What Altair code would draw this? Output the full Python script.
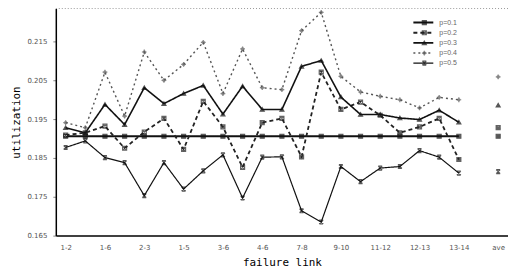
import altair as alt
import pandas as pd

links = ["1-2", "1-3", "1-6", "2-4", "2-3", "2-5", "1-5", "3-4", "3-6", "4-5",
         "4-6", "5-7", "7-8", "8-9", "9-10", "10-11", "11-12", "11-13", "12-13",
         "12-14", "13-14", " ", "ave"]

series_names = ["p=0.1", "p=0.2", "p=0.3", "p=0.4", "p=0.5"]

s1 = [0.1906] * 21 + [None, 0.1906]
s2 = [0.1909, 0.1915, 0.1932, 0.1875, 0.1917, 0.1952, 0.1872, 0.1996, 0.1930, 0.1826,
      0.1941, 0.1952, 0.1853, 0.2071, 0.1975, 0.1994, 0.1960, 0.1915, 0.1930, 0.1952,
      0.1846, None, 0.1928]
s3 = [0.1928, 0.1915, 0.1988, 0.1936, 0.2031, 0.1990, 0.2016, 0.2037, 0.1963, 0.2035,
      0.1975, 0.1975, 0.2086, 0.2101, 0.2007, 0.1962, 0.1962, 0.1953, 0.1949, 0.1973,
      0.1942, None, 0.1986]
s4 = [0.1941, 0.1928, 0.2071, 0.1958, 0.2123, 0.2050, 0.2091, 0.2148, 0.2016, 0.2131,
      0.2031, 0.2026, 0.2178, 0.2225, 0.2060, 0.2020, 0.2009, 0.2000, 0.1979, 0.2006,
      0.2000, None, 0.2059]
s5 = [0.1877, 0.1894, 0.1851, 0.1838, 0.1753, 0.1838, 0.1770, 0.1817, 0.1858, 0.1747,
      0.1852, 0.1853, 0.1714, 0.1685, 0.1828, 0.1789, 0.1824, 0.1828, 0.1869, 0.1852,
      0.1811, None, 0.1815]

y_ticks = [0.165, 0.175, 0.185, 0.195, 0.205, 0.215]
x_label_values = links[0::2]

rows = []
for name, vals in zip(series_names, [s1, s2, s3, s4, s5]):
    for i, (lk, v) in enumerate(zip(links, vals)):
        if v is not None:
            rows.append({"link": lk, "series": name, "value": v})
df = pd.DataFrame(rows)
legend_df = pd.DataFrame({"series": series_names})

sq_x = "M-1,-1H1V1H-1Z M-1,-1L1,1 M-1,1L1,-1"
plus = "M-1.2,0H1.2 M0,-1.2V1.2 M-0.6,-0.6L0.6,0.6 M-0.6,0.6L0.6,-0.6"
star = "M-1,-1L1,1 M-1,1L1,-1 M-1,-1H1 M-1,1H1"
shapes = ["square", sq_x, "triangle-up", plus, star]
colors = ["#111111", "#222222", "#111111", "#555555", "#111111"]
fills = ["#111111", "#ffffff", "#111111", "transparent", "transparent"]
dashes = [[1, 0], [4, 3], [1, 0], [2, 3], [1, 0]]
widths = [2.0, 1.2, 1.5, 1.0, 1.2]

color_sc = alt.Scale(domain=series_names, range=colors)
shape_sc = alt.Scale(domain=series_names, range=shapes)
fill_sc = alt.Scale(domain=series_names, range=fills)
dash_sc = alt.Scale(domain=series_names, range=dashes)
width_sc = alt.Scale(domain=series_names, range=widths)

x_enc = alt.X("link:N", sort=links, scale=alt.Scale(type="point", padding=0.5, domain=links),
              axis=alt.Axis(values=x_label_values, labelAngle=0, labelFontSize=7,
                            labelColor="#555555", ticks=False, domainColor="#000000",
                            domainWidth=1.5, labelPadding=8, title="failure link",
                            titleFont="DejaVu Sans Mono", titleFontSize=11,
                            titleFontWeight="normal", titlePadding=6, grid=False))
y_enc = alt.Y("value:Q", scale=alt.Scale(domain=[0.165, 0.2235], nice=False, zero=False),
              axis=alt.Axis(values=y_ticks, format=".3f", labelFontSize=7,
                            labelColor="#555555", tickSize=3, domainColor="#000000",
                            domainWidth=1.5, labelPadding=6, title="utilization",
                            titleFont="DejaVu Sans Mono", titleFontSize=11,
                            titleFontWeight="normal", titlePadding=5, grid=False))

base = alt.Chart(df)
lines = base.transform_filter(alt.datum.link != "ave").mark_line().encode(
    x=x_enc, y=y_enc,
    color=alt.Color("series:N", scale=color_sc, legend=None),
    strokeDash=alt.StrokeDash("series:N", scale=dash_sc, legend=None),
    strokeWidth=alt.StrokeWidth("series:N", scale=width_sc, legend=None),
    detail="series:N")
points = base.mark_point(size=16, strokeWidth=1.2).encode(
    x=x_enc, y=y_enc,
    color=alt.Color("series:N", scale=color_sc, legend=None),
    fill=alt.Fill("series:N", scale=fill_sc, legend=None),
    shape=alt.Shape("series:N", scale=shape_sc, legend=None))
data_layer = alt.layer(lines, points)

top_rule = alt.Chart(pd.DataFrame({"a": [0]})).mark_rule(
    strokeDash=[1, 2], color="#999999").encode(
    x=alt.value(0), x2=alt.value(454), y=alt.value(0))

leg_y = alt.Y("series:N", scale=alt.Scale(domain=series_names, range=[9, 60]), axis=None)
leg_base = alt.Chart(legend_df)
leg_lines = leg_base.mark_rule().encode(
    x=alt.value(359), x2=alt.value(379), y=leg_y,
    color=alt.Color("series:N", scale=color_sc, legend=None),
    strokeDash=alt.StrokeDash("series:N", scale=dash_sc, legend=None),
    strokeWidth=alt.StrokeWidth("series:N", scale=width_sc, legend=None))
leg_points = leg_base.mark_point(size=16, strokeWidth=1.2).encode(
    x=alt.value(370), y=leg_y,
    color=alt.Color("series:N", scale=color_sc, legend=None),
    fill=alt.Fill("series:N", scale=fill_sc, legend=None),
    shape=alt.Shape("series:N", scale=shape_sc, legend=None))
leg_text = leg_base.mark_text(align="left", baseline="middle", fontSize=7,
                              color="#666666").encode(
    x=alt.value(385), y=leg_y, text="series:N")
legend_layer = alt.layer(leg_lines, leg_points, leg_text)

chart = alt.layer(top_rule, data_layer, legend_layer).resolve_scale(
    y="independent").properties(
    width=454, height=228,
    autosize=alt.AutoSizeParams(type="none"),
    padding={"left": 48, "top": 0, "right": 0, "bottom": 37},
    background="white",
).configure_view(stroke=None).configure_axis(labelFont="DejaVu Sans")

chart.save("out.html", embed_options={"renderer": "svg", "actions": False})
